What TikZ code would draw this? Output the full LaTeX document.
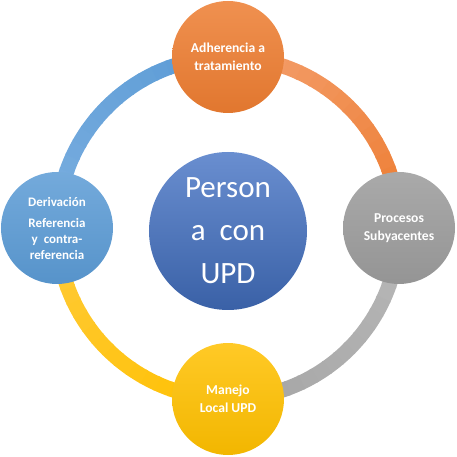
\documentclass[tikz,border=0pt]{standalone}
\usepackage{fontspec}
\setmainfont{Carlito}
\usetikzlibrary{positioning}

\definecolor{naranja}{HTML}{ED7D31}
\definecolor{naranjaC}{HTML}{F4A070}
\definecolor{gris}{HTML}{A5A5A5}
\definecolor{grisC}{HTML}{B8B8B8}
\definecolor{oro}{HTML}{FFC000}
\definecolor{oroC}{HTML}{FFCB3A}
\definecolor{azul}{HTML}{5B9BD5}
\definecolor{azulC}{HTML}{7AAEE0}
\definecolor{azulO}{HTML}{4472C4}

\tikzset{
  etapa/.style={circle, minimum size=112pt, inner sep=0pt, align=center,
    text=white, font=\bfseries\fontsize{13.6}{18.5}\selectfont},
  centro/.style={circle, minimum size=158pt, inner sep=0pt, align=center,
    text=white, font=\fontsize{31}{43}\selectfont,
    top color=azulO!80!white, bottom color=azulO!85!black},
  anillo/.style={line width=15pt}
}

\begin{document}
\begin{tikzpicture}[x=1pt,y=1pt]
        \useasboundingbox (-228,-229) rectangle (229,228);

        % anillo en cuatro tramos
        \foreach \a/\cA/\cB in {90/naranjaC/naranja, 0/grisC/gris, -90/oro/oroC, 180/azulC/azul}
        {
          \foreach \i in {0,...,17}
          {
            \pgfmathsetmacro\p{100-\i*100/17}
            \draw[anillo, color=\cA!\p!\cB] (\a-\i*5+0.6:171) arc (\a-\i*5+0.6:\a-\i*5-5:171);
          }
        }

        \node[centro] (P) at (0,-3) {Person\\a\ \ con\\UPD};

        \node[etapa, top color=naranja!85!white, bottom color=naranja!95!black] (A) at (0,171)
             {Adherencia a\\tratamiento};
        \node[etapa, top color=gris!95!white, bottom color=gris!90!black] (S) at (171,0)
             {Procesos\\Subyacentes};
        \node[etapa, top color=oro!85!white, bottom color=oro!95!black] (M) at (0,-171)
             {Manejo\\Local UPD};
        \node[etapa, top color=azul!85!white, bottom color=azul!95!black,
              font=\bfseries\fontsize{13}{16}\selectfont] (D) at (-171,0)
             {Derivación\\[5pt]Referencia\\y\ \ contra-\\referencia};
\end{tikzpicture}
\end{document}
